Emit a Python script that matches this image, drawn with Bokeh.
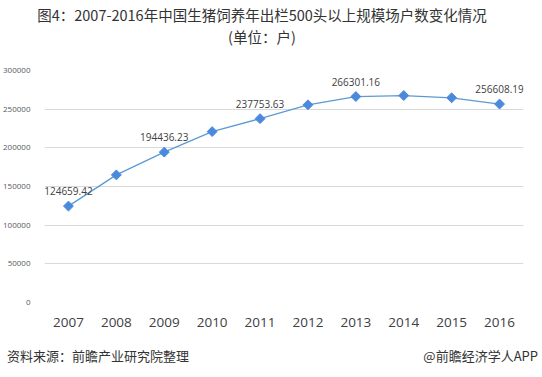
import math
from bokeh.plotting import figure
from bokeh.layouts import column
from bokeh.models import (ColumnDataSource, LabelSet, FixedTicker,
                          NumeralTickFormatter, Div)
from bokeh.core.properties import value
from bokeh.embed import file_html
from bokeh.resources import INLINE

years = ["2007", "2008", "2009", "2010", "2011", "2012", "2013", "2014", "2015", "2016"]
farms = [124659.42, 165000, 194436.23, 221000, 237753.63, 255600, 266301.16, 267600, 264700, 256608.19]
label_years = ["2007", "2009", "2011", "2013", "2016"]
label_values = [124659.42, 194436.23, 237753.63, 266301.16, 256608.19]
label_texts = ["124659.42", "194436.23", "237753.63", "266301.16", "256608.19"]
y_ticks = [0, 50000, 100000, 150000, 200000, 250000, 300000]

title_line1 = "图4：2007-2016年中国生猪饲养年出栏500头以上规模场户数变化情况"
title_line2 = "(单位：户)"
source_text = "资料来源：前瞻产业研究院整理"
brand_text = "@前瞻经济学人APP"

W = 542
TOP_H = 50
FOOT_H = 37
MAIN_H = 377 - TOP_H - FOOT_H   # 290
L, R = 43, 19
T = 70 - TOP_H                  # frame top at canvas y=70
B = MAIN_H - T - 232            # frame bottom at canvas y=302

FONT = "'Noto Sans CJK SC', sans-serif"


def centered_line(text, cx, top_px, size):
    return (f'<div style="position:absolute;left:{cx}px;top:{top_px}px;transform:translateX(-50%);'
            f'font-family:{FONT};font-size:{size};line-height:20px;color:#333333;'
            f'white-space:nowrap;">{text}</div>')


top = Div(width=W, height=TOP_H, margin=0, text=(
    f'<div style="position:relative;width:{W}px;height:{TOP_H}px;">'
    + centered_line(title_line1, 262, 5, "14.5px")
    + centered_line(title_line2, 262, 27, "14.5px")
    + '</div>'))

p = figure(width=W, height=MAIN_H, x_range=years, y_range=(0, 300000),
           output_backend="svg", toolbar_location=None,
           min_border_left=L, min_border_right=R, min_border_top=T, min_border_bottom=B)
p.x_range.range_padding = 0
p.outline_line_color = None
p.background_fill_color = "white"
p.border_fill_color = "white"

p.xgrid.grid_line_color = None
p.ygrid.grid_line_color = "#d9d9d9"
p.ygrid.grid_line_width = 1

p.yaxis.ticker = FixedTicker(ticks=y_ticks)
p.yaxis.formatter = NumeralTickFormatter(format="0")
p.yaxis.axis_line_color = None
p.yaxis.major_tick_line_color = None
p.yaxis.minor_tick_line_color = None
p.yaxis.major_label_text_font = "Open Sans"
p.yaxis.major_label_text_font_size = "8px"
p.yaxis.major_label_text_color = "#595959"
p.yaxis.major_label_standoff = 8

p.xaxis.axis_line_color = None
p.xaxis.major_tick_line_color = None
p.xaxis.minor_tick_line_color = None
p.xaxis.major_label_text_font = "Open Sans"
p.xaxis.major_label_text_font_size = "13.5px"
p.xaxis.major_label_text_color = "#404040"
p.xaxis.major_label_standoff = 9

src = ColumnDataSource(dict(x=years, y=farms))
p.line("x", "y", source=src, line_color="#5b9bd5", line_width=1.3)
p.scatter("x", "y", source=src, marker="square", size=7, angle=math.pi / 4,
          fill_color="#4a89dc", line_color="#4a89dc")

lsrc = ColumnDataSource(dict(x=label_years, y=label_values, t=label_texts))
p.add_layout(LabelSet(x="x", y="y", text="t", source=lsrc, text_align="center",
                      text_baseline="middle", y_offset=15, text_font=value("Open Sans"),
                      text_font_size="10px", text_color="#404040"))

foot = Div(width=W, height=FOOT_H, margin=0, text=(
    f'<div style="width:{W}px;height:{FOOT_H}px;box-sizing:border-box;padding:6px 4px 0 7px;'
    f'display:flex;justify-content:space-between;font-family:{FONT};font-size:13px;'
    f'line-height:20px;color:#333333;white-space:nowrap;">'
    f'<span>{source_text}</span><span>{brand_text}</span></div>'))

layout = column(top, p, foot, spacing=0)
open("out.html", "w").write(file_html(layout, INLINE))
